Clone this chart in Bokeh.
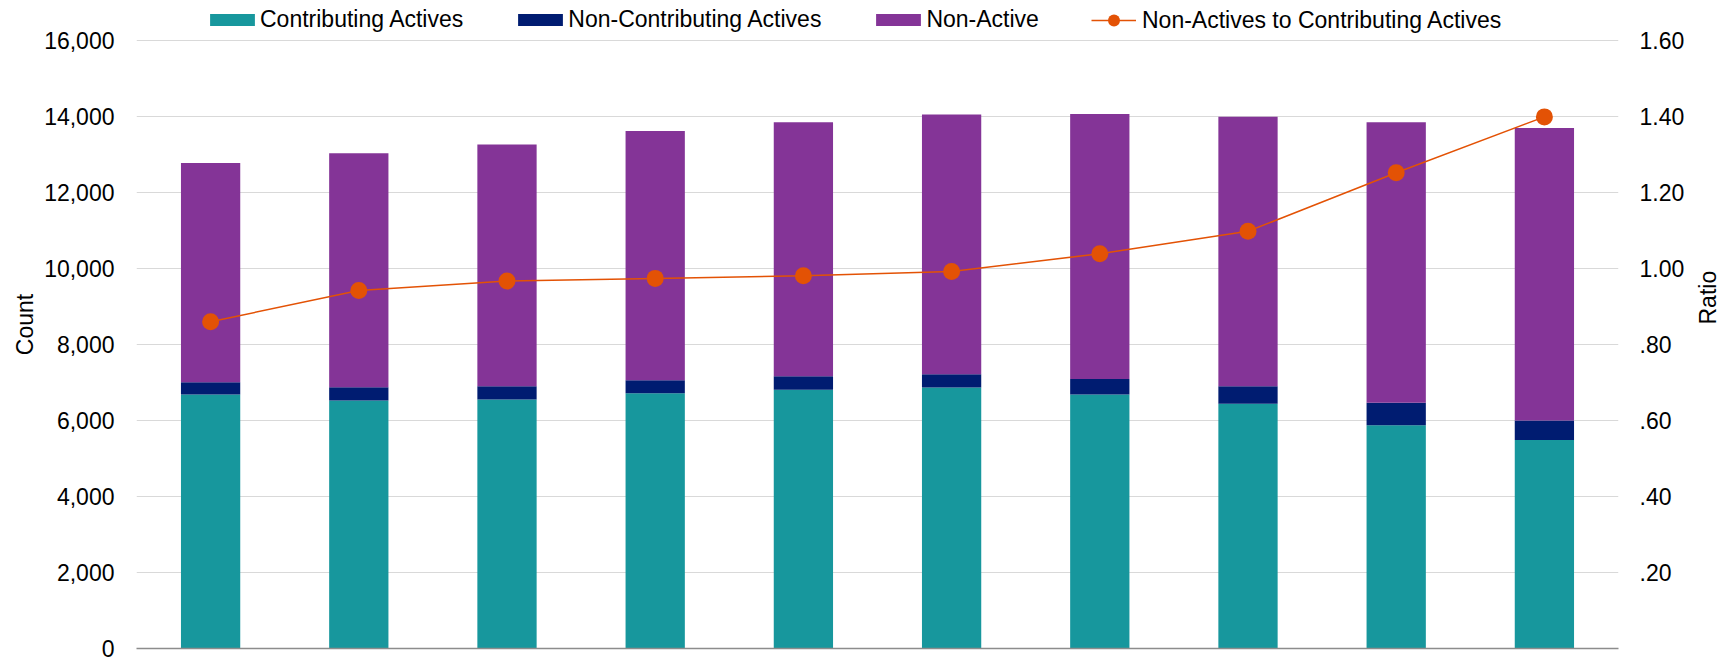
import math
from bokeh.plotting import figure
from bokeh.models import (ColumnDataSource, Range1d, LinearAxis, FixedTicker,
                          NumeralTickFormatter, CustomJSTickFormatter, Legend, LegendItem)
from bokeh.embed import file_html
from bokeh.resources import INLINE

# ---- data ----
periods = [1, 2, 3, 4, 5, 6, 7, 8, 9, 10]
contributing_actives = [6685, 6528, 6554, 6720, 6807, 6868, 6685, 6441, 5874, 5490]
non_contributing_actives = [323, 349, 349, 340, 358, 349, 410, 462, 593, 507]
non_active = [5766, 6158, 6358, 6559, 6681, 6838, 6969, 7091, 7379, 7700]
ratio = [0.860, 0.942, 0.967, 0.974, 0.981, 0.992, 1.039, 1.098, 1.252, 1.399]
count_ticks = [0, 2000, 4000, 6000, 8000, 10000, 12000, 14000, 16000]
ratio_ticks = [0.2, 0.4, 0.6, 0.8, 1.0, 1.2, 1.4, 1.6]
series_names = ["Contributing Actives", "Non-Contributing Actives", "Non-Active"]
line_name = "Non-Actives to Contributing Actives"

FONT = "Liberation Sans"
FS = "23px"
TEAL, NAVY, PURPLE, ORANGE = "#17979d", "#001c71", "#843497", "#e35205"

# layout (pixels): the frame reaches the top of the canvas so the legend row sits inside it
FRAME_H = 648          # frame height
AXIS_TOP_PX = 40       # where the 16,000 / 1.60 gridline sits, from the frame top
COUNT_MAX, RATIO_MAX = 16000, 1.6
scale = FRAME_H / (FRAME_H - AXIS_TOP_PX)

src = ColumnDataSource(dict(period=periods, ca=contributing_actives,
                            nca=non_contributing_actives, na=non_active, ratio=ratio))

p = figure(frame_width=1482, frame_height=FRAME_H,
           x_range=Range1d(0.5, 10.5), y_range=Range1d(0, COUNT_MAX * scale),
           output_backend="svg", toolbar_location=None,
           min_border_left=136, min_border_right=100, min_border_top=0, min_border_bottom=14)
p.outline_line_color = None
p.background_fill_color = "white"
p.extra_y_ranges = {"ratio": Range1d(0, RATIO_MAX * scale)}

bars = p.vbar_stack(["ca", "nca", "na"], x="period", width=0.4, source=src,
                    color=[TEAL, NAVY, PURPLE], line_color=None)
ln = p.line(x="period", y="ratio", source=src, y_range_name="ratio",
            line_color=ORANGE, line_width=1.5)
sc = p.scatter(x="period", y="ratio", source=src, y_range_name="ratio",
               size=17, fill_color=ORANGE, line_color=None)

# grid
p.xgrid.visible = False
p.ygrid.ticker = FixedTicker(ticks=count_ticks)
p.ygrid.grid_line_color = "#d9d9d9"
p.ygrid.grid_line_width = 1

# x axis: line only
xa = p.xaxis[0]
xa.ticker = FixedTicker(ticks=[])
xa.axis_line_color = "#8c8c8c"
xa.axis_line_width = 1.5
xa.major_tick_line_color = None
xa.minor_tick_line_color = None
xa.major_tick_out = 0
xa.minor_tick_out = 0

# left axis
ya = p.yaxis[0]
ya.ticker = FixedTicker(ticks=count_ticks)
ya.formatter = NumeralTickFormatter(format="0,0")
ya.axis_label = "Count"
ya.axis_line_color = None
ya.major_tick_line_color = None
ya.minor_tick_line_color = None
ya.major_tick_out = 0
ya.minor_tick_out = 0
ya.major_label_standoff = 22
ya.axis_label_standoff = 3
ya.major_label_text_font = FONT
ya.major_label_text_font_size = FS
ya.major_label_text_color = "#000000"
ya.axis_label_text_font = FONT
ya.axis_label_text_font_size = FS
ya.axis_label_text_font_style = "normal"
ya.axis_label_text_color = "#000000"

# right axis
ra = LinearAxis(y_range_name="ratio", ticker=FixedTicker(ticks=ratio_ticks),
                formatter=CustomJSTickFormatter(code="""
                    const s = tick.toFixed(2);
                    return tick < 1 ? s.slice(1) : s;
                """),
                axis_label="Ratio")
ra.axis_label_orientation = math.pi / 2
ra.axis_line_color = None
ra.major_tick_line_color = None
ra.minor_tick_line_color = None
ra.major_tick_out = 0
ra.minor_tick_out = 0
ra.major_label_standoff = 21
ra.axis_label_standoff = 21
ra.major_label_text_font = FONT
ra.major_label_text_font_size = FS
ra.major_label_text_color = "#000000"
ra.axis_label_text_font = FONT
ra.axis_label_text_font_size = FS
ra.axis_label_text_font_style = "normal"
ra.axis_label_text_color = "#000000"
p.add_layout(ra, "right")

# legends (inside the frame's top strip)
def style_legend(lg):
    lg.orientation = "horizontal"
    lg.padding = 0
    lg.margin = 0
    lg.border_line_color = None
    lg.background_fill_alpha = 0
    lg.label_text_font = FONT
    lg.label_text_font_size = FS
    lg.label_text_color = "#000000"

LEG_CY = FRAME_H - 20   # legend centre, from the frame bottom
leg1 = Legend(items=[LegendItem(label=series_names[i], renderers=[bars[i]]) for i in range(3)],
              location=(68, LEG_CY - 13), glyph_width=56, glyph_height=15,
              label_standoff=0, spacing=49)
style_legend(leg1)
leg2 = Legend(items=[LegendItem(label=line_name, renderers=[ln, sc])],
              location=(955, LEG_CY - 15), glyph_width=45, glyph_height=30,
              label_standoff=6, spacing=0)
style_legend(leg2)
p.add_layout(leg1)
p.add_layout(leg2)

open("out.html", "w").write(file_html(p, INLINE))
